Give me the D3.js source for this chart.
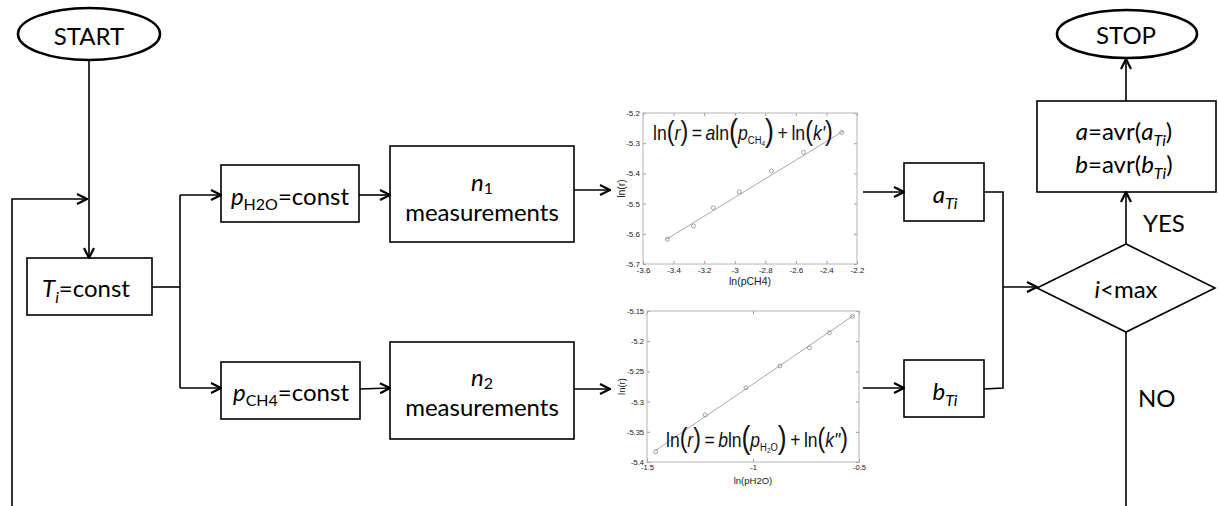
<!DOCTYPE html>
<html>
<head>
<meta charset="utf-8">
<script src="https://cdn.jsdelivr.net/npm/d3@7"></script>
<style>
  body { margin: 0; background: #fff; }
  svg text { white-space: pre; }
</style>
</head>
<body>
<svg id="chart"></svg>
<script>
// Inset 1: ln(r) against ln(pCH4)
const ch4X = [-3.44, -3.27, -3.14, -2.97, -2.76, -2.55, -2.30];
const ch4Y = [-5.618, -5.574, -5.514, -5.461, -5.392, -5.330, -5.264];
const ch4FitX = [-3.45, -2.29];
const ch4FitY = [-5.619, -5.260];
const ch4XTicks = [-3.6, -3.4, -3.2, -3, -2.8, -2.6, -2.4, -2.2];
const ch4YTicks = [-5.7, -5.6, -5.5, -5.4, -5.3, -5.2];

// Inset 2: ln(r) against ln(pH2O)
const h2oX = [-1.459, -1.226, -1.033, -0.873, -0.734, -0.640, -0.532];
const h2oY = [-5.383, -5.322, -5.277, -5.241, -5.211, -5.186, -5.159];
const h2oFitX = [-1.46, -0.52];
const h2oFitY = [-5.381, -5.156];
const h2oXTicks = [-1.5, -1, -0.5];
const h2oYTicks = [-5.4, -5.35, -5.3, -5.25, -5.2, -5.15];

const W = 1218, H = 506;
const FLOW_FONT = "Lato, 'Open Sans', sans-serif";
const PLOT_FONT = "'Liberation Sans', Arial, sans-serif";
const FS = 24;

const svg = d3.select("#chart").attr("width", W).attr("height", H);
svg.append("rect").attr("width", W).attr("height", H).attr("fill", "#fff");

svg.append("defs").append("marker")
  .attr("id", "arrow")
  .attr("markerUnits", "userSpaceOnUse")
  .attr("viewBox", "0 0 12 12")
  .attr("refX", 11).attr("refY", 6)
  .attr("markerWidth", 12).attr("markerHeight", 12)
  .attr("orient", "auto")
  .append("path")
  .attr("d", "M1,1 L11,6 L1,11")
  .attr("fill", "none")
  .attr("stroke", "#000")
  .attr("stroke-width", 2.2);

// text made of several runs (italic, subscripts, big brackets)
function richText(g, x, y, parts, opts) {
  const t = g.append("text")
    .attr("text-anchor", opts.anchor || "middle")
    .attr("fill", opts.color || "#000")
    .style("font-family", opts.family || FLOW_FONT)
    .style("font-size", (opts.size || FS) + "px");
  let cur = 0;
  parts.forEach((p) => {
    const off = p.off || 0;
    t.append("tspan")
      .attr("dy", off - cur)
      .style("font-size", (p.s || opts.size || FS) + "px")
      .style("font-style", p.i ? "italic" : "normal")
      .text(p.t);
    cur = off;
  });
  if (opts.width) {
    // narrow the whole formula to the width seen in the picture
    const k = opts.width / t.node().getComputedTextLength();
    t.attr("transform", `translate(${x},${y}) scale(${k},1)`);
  } else {
    t.attr("x", x).attr("y", y);
    t.selectAll("tspan").filter((d, i) => i === 0).attr("x", null);
  }
  return t;
}

const flow = svg.append("g");

function box(x, y, w, h) {
  flow.append("rect")
    .attr("x", x).attr("y", y).attr("width", w).attr("height", h)
    .attr("fill", "none").attr("stroke", "#000").attr("stroke-width", 1.6);
}

function ellipse(cx, cy, rx, ry) {
  flow.append("ellipse")
    .attr("cx", cx).attr("cy", cy).attr("rx", rx).attr("ry", ry)
    .attr("fill", "none").attr("stroke", "#000").attr("stroke-width", 2.6);
}

function wire(pts, arrow) {
  const p = flow.append("path")
    .attr("d", d3.line()(pts))
    .attr("fill", "none").attr("stroke", "#000").attr("stroke-width", 1.6);
  if (arrow) p.attr("marker-end", "url(#arrow)");
}

// shapes
ellipse(89, 34, 71, 26);
ellipse(1127, 34, 70, 24);
box(27, 258, 125, 57);
box(221, 165, 138, 57);
box(221, 362, 139, 57);
box(390, 146, 184, 96);
box(390, 342, 184, 97);
box(904, 163, 80, 58);
box(904, 360, 80, 57);
box(1037, 101, 179, 91);
flow.append("path")
  .attr("d", d3.line()([[1037, 288], [1126, 244], [1215, 288], [1126, 332]]) + "Z")
  .attr("fill", "none").attr("stroke", "#000").attr("stroke-width", 1.6);

// connections
wire([[89, 60], [89, 258]], true);
wire([[12, 506], [12, 199], [87, 199]], true);
wire([[152, 287], [180, 287]]);
wire([[180, 195], [180, 388]]);
wire([[180, 195], [221, 195]], true);
wire([[180, 388], [221, 388]], true);
wire([[359, 195], [390, 195]], true);
wire([[360, 389], [390, 388]], true);
wire([[574, 190], [610, 190]], true);
wire([[574, 389], [610, 389]], true);
wire([[863, 192], [904, 192]], true);
wire([[863, 388], [904, 388]], true);
wire([[984, 192], [1003, 192], [1003, 388], [984, 389]]);
wire([[1003, 287], [1037, 287]], true);
wire([[1126, 244], [1126, 192]], true);
wire([[1126, 101], [1126, 59]], true);
wire([[1126, 332], [1126, 506]]);

// labels
const sub = 6, subS = 16;
richText(flow, 89, 45, [{ t: "START" }], {});
richText(flow, 1126, 44, [{ t: "STOP" }], {});
richText(flow, 86, 297, [
  { t: "T", i: true }, { t: "i", i: true, s: subS, off: sub }, { t: "=const" }
], {});
richText(flow, 290, 205, [
  { t: "p", i: true }, { t: "H2O", s: subS, off: 5 }, { t: "=const" }
], {});
richText(flow, 291, 401, [
  { t: "p", i: true }, { t: "CH4", s: subS, off: 5 }, { t: "=const" }
], {});
richText(flow, 482, 191, [{ t: "n", i: true }, { t: "1", s: subS, off: 3 }], {});
richText(flow, 482, 221, [{ t: "measurements" }], {});
richText(flow, 482, 386, [{ t: "n", i: true }, { t: "2", s: subS, off: 3 }], {});
richText(flow, 482, 416, [{ t: "measurements" }], {});
richText(flow, 945, 203, [{ t: "a", i: true }, { t: "Ti", i: true, s: subS, off: sub }], {});
richText(flow, 945, 400, [{ t: "b", i: true }, { t: "Ti", i: true, s: subS, off: sub }], {});
richText(flow, 1124, 140, [
  { t: "a", i: true }, { t: "=avr(" }, { t: "a", i: true },
  { t: "Ti", i: true, s: subS, off: sub }, { t: ")" }
], {});
richText(flow, 1124, 173, [
  { t: "b", i: true }, { t: "=avr(" }, { t: "b", i: true },
  { t: "Ti", i: true, s: subS, off: sub }, { t: ")" }
], {});
richText(flow, 1126, 298, [{ t: "i", i: true }, { t: "<max" }], {});
richText(flow, 1143, 232, [{ t: "YES" }], { anchor: "start" });
richText(flow, 1138, 407, [{ t: "NO" }], { anchor: "start" });

// small MATLAB style insets
function inset(cfg) {
  const g = svg.append("g");
  const x = d3.scaleLinear().domain(cfg.xDomain).range([cfg.left, cfg.right]);
  const y = d3.scaleLinear().domain(cfg.yDomain).range([cfg.bottom, cfg.top]);
  const fmt = (d) => String(d);
  const tk = 3;

  const styleAxis = (sel, labels) => {
    sel.select(".domain").remove();
    sel.selectAll(".tick line").attr("stroke", "#9a9a9a");
    sel.selectAll(".tick text")
      .attr("fill", labels ? "#1a1a1a" : "none")
      .style("font-family", PLOT_FONT)
      .style("font-size", cfg.tickFont + "px");
  };

  g.append("g").attr("transform", `translate(0,${cfg.bottom})`)
    .call(d3.axisBottom(x).tickValues(cfg.xTicks).tickSize(-tk).tickPadding(3).tickFormat(fmt))
    .call((s) => styleAxis(s, true));
  g.append("g").attr("transform", `translate(0,${cfg.top})`)
    .call(d3.axisTop(x).tickValues(cfg.xTicks).tickSize(-tk).tickFormat(""))
    .call((s) => styleAxis(s, false));
  g.append("g").attr("transform", `translate(${cfg.left},0)`)
    .call(d3.axisLeft(y).tickValues(cfg.yTicks).tickSize(-tk).tickPadding(3).tickFormat(fmt))
    .call((s) => styleAxis(s, true));
  g.append("g").attr("transform", `translate(${cfg.right},0)`)
    .call(d3.axisRight(y).tickValues(cfg.yTicks).tickSize(-tk).tickFormat(""))
    .call((s) => styleAxis(s, false));

  g.append("rect")
    .attr("x", cfg.left).attr("y", cfg.top)
    .attr("width", cfg.right - cfg.left).attr("height", cfg.bottom - cfg.top)
    .attr("fill", "none").attr("stroke", "#b4b4b4").attr("stroke-width", 1);

  g.append("path")
    .datum(d3.zip(cfg.fitX, cfg.fitY))
    .attr("d", d3.line().x((d) => x(d[0])).y((d) => y(d[1])))
    .attr("fill", "none").attr("stroke", "#a8a8a8").attr("stroke-width", 1);

  g.selectAll(".pt")
    .data(d3.zip(cfg.xs, cfg.ys))
    .enter()
    .append("circle")
    .attr("cx", (d) => x(d[0]))
    .attr("cy", (d) => y(d[1]))
    .attr("r", 2)
    .attr("fill", "none")
    .attr("stroke", "#8a8a8a")
    .attr("stroke-width", 0.8);

  g.append("text")
    .attr("transform", `translate(${cfg.yLabelX},${(cfg.top + cfg.bottom) / 2}) rotate(-90)`)
    .attr("text-anchor", "middle")
    .attr("fill", "#1a1a1a")
    .style("font-family", PLOT_FONT)
    .style("font-size", cfg.labelFont + "px")
    .text("ln(r)");
  g.append("text")
    .attr("x", (cfg.left + cfg.right) / 2)
    .attr("y", cfg.xLabelY)
    .attr("text-anchor", "middle")
    .attr("fill", "#1a1a1a")
    .style("font-family", PLOT_FONT)
    .style("font-size", cfg.labelFont + "px")
    .text(cfg.xLabel);
  return g;
}

const g1 = inset({
  xs: ch4X, ys: ch4Y, fitX: ch4FitX, fitY: ch4FitY,
  xTicks: ch4XTicks, yTicks: ch4YTicks,
  xDomain: [-3.6, -2.2], yDomain: [-5.7, -5.2],
  left: 643, right: 857, top: 113, bottom: 264,
  tickFont: 8, labelFont: 10.5, yLabelX: 625, xLabelY: 285,
  xLabel: "ln(pCH4)"
});

const g2 = inset({
  xs: h2oX, ys: h2oY, fitX: h2oFitX, fitY: h2oFitY,
  xTicks: h2oXTicks, yTicks: h2oYTicks,
  xDomain: [-1.5, -0.5], yDomain: [-5.4, -5.15],
  left: 647, right: 859, top: 311, bottom: 462,
  tickFont: 7.5, labelFont: 9.5, yLabelX: 625, xLabelY: 484,
  xLabel: "ln(pH2O)"
});

// regression equations written on the insets
const thin = "\u2009";
richText(g1, 653, 140, [
  { t: "ln" }, { t: "(", s: 27 }, { t: "r", i: true }, { t: ")", s: 27 },
  { t: thin + "=" + thin }, { t: "a", i: true }, { t: "ln" }, { t: "(", s: 31, off: 1 },
  { t: "p", i: true }, { t: "CH", s: 11, off: 4 }, { t: "4", s: 7.5, off: 6 },
  { t: ")", s: 31, off: 1 }, { t: thin + "+" + thin + "ln" }, { t: "(", s: 27 },
  { t: "k'", i: true }, { t: ")", s: 27 }
], { family: PLOT_FONT, size: 20.5, anchor: "start", color: "#111", width: 180 });
richText(g2, 666, 447, [
  { t: "ln" }, { t: "(", s: 27 }, { t: "r", i: true }, { t: ")", s: 27 },
  { t: thin + "=" + thin }, { t: "b", i: true }, { t: "ln" }, { t: "(", s: 31, off: 1 },
  { t: "p", i: true }, { t: "H", s: 11, off: 4 }, { t: "2", s: 7.5, off: 6 }, { t: "O", s: 11, off: 4 },
  { t: ")", s: 31, off: 1 }, { t: thin + "+" + thin + "ln" }, { t: "(", s: 27 },
  { t: "k\"", i: true }, { t: ")", s: 27 }
], { family: PLOT_FONT, size: 20.5, anchor: "start", color: "#111", width: 182 });
</script>
</body>
</html>
